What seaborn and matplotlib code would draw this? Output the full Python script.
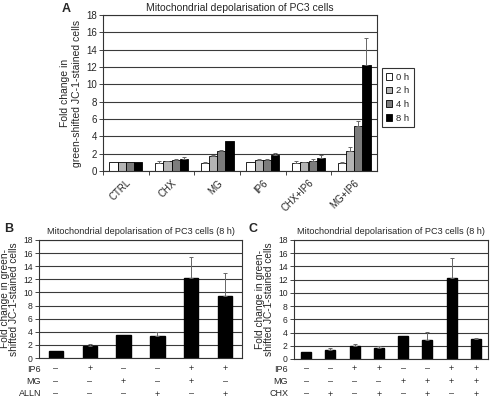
import numpy as np
import pandas as pd
import matplotlib
matplotlib.use("Agg")
from matplotlib import pyplot as plt
from matplotlib import transforms
import seaborn as sns

# panel A data
treatments = ["CTRL", "CHX", "MG", "IP6", "CHX+IP6", "MG+IP6"]
times = ["0 h", "2 h", "4 h", "8 h"]
vals_0h = [1.0, 0.95, 0.95, 1.0, 0.9, 0.95]
vals_2h = [1.0, 1.1, 1.7, 1.3, 1.0, 2.35]
vals_4h = [1.0, 1.3, 2.35, 1.3, 1.2, 5.2]
vals_8h = [1.0, 1.35, 3.5, 1.8, 1.5, 12.2]
err_0h = [0.0, 0.15, 0.1, 0.0, 0.2, 0.05]
err_2h = [0.0, 0.05, 0.2, 0.1, 0.05, 0.4]
err_4h = [0.0, 0.05, 0.05, 0.1, 0.2, 0.6]
err_8h = [0.0, 0.3, 0.0, 0.3, 0.35, 3.1]
time_colors = ["white", "#b4b4b4", "#7c7c7c", "black"]

# panel B data
b_vals = [1.0, 1.8, 3.55, 3.3, 12.25, 9.4]
b_err = [0.0, 0.35, 0.0, 0.6, 3.1, 3.6]
b_rows = ["IP6", "MG", "ALLN"]
b_signs = [["–", "+", "–", "–", "+", "+"],
           ["–", "–", "+", "–", "+", "–"],
           ["–", "–", "–", "+", "–", "+"]]

# panel C data
c_vals = [1.0, 1.4, 1.9, 1.6, 3.55, 2.85, 12.25, 2.95]
c_err = [0.0, 0.2, 0.3, 0.3, 0.0, 1.25, 3.1, 0.3]
c_rows = ["IP6", "MG", "CHX"]
c_signs = [["–", "–", "+", "+", "–", "–", "+", "+"],
           ["–", "–", "–", "–", "+", "+", "+", "+"],
           ["–", "+", "–", "+", "–", "+", "–", "+"]]

sns.set_style("white")
plt.rcParams["font.family"] = ["Liberation Sans", "DejaVu Sans"]
plt.rcParams["font.size"] = 6.8
GRID = "#3a3a3a"


def style_axes(ax, fs):
    ax.set_ylim(0, 18)
    ax.set_yticks(range(0, 19, 2))
    ax.yaxis.grid(True, color=GRID, lw=0.8)
    ax.set_axisbelow(True)
    for s in ax.spines.values():
        s.set_color("#333333")
        s.set_linewidth(0.8)
    ax.tick_params(axis="y", length=3, width=0.6, pad=1.5, labelsize=fs, left=True)
    ax.tick_params(axis="x", length=3, width=0.6, labelsize=fs, bottom=True)


def add_errs(ax, container, errs):
    for bar, e in zip(container, errs):
        if e <= 0:
            continue
        x = bar.get_x() + bar.get_width() / 2
        y = bar.get_height()
        ax.errorbar(x, y, yerr=[[0], [e]], color="#666666", lw=0.7, capsize=1.5,
                    capthick=0.7, zorder=5)


fig = plt.figure(figsize=(4.91, 4.03), dpi=100)

# ---- panel A
axA = fig.add_axes([103 / 491, 1 - 171 / 403, 274 / 491, 156 / 403])
dfA = pd.DataFrame({
    "treatment": treatments * 4,
    "time": [t for t in times for _ in treatments],
    "value": vals_0h + vals_2h + vals_4h + vals_8h,
})
sns.barplot(data=dfA, x="treatment", y="value", hue="time", palette=time_colors,
            edgecolor="black", linewidth=0.6, errorbar=None, width=0.72, ax=axA)
for cont, errs in zip(axA.containers, [err_0h, err_2h, err_4h, err_8h]):
    add_errs(axA, cont, errs)
style_axes(axA, 7)
axA.set_xticks(np.arange(len(treatments)) - 0.5, minor=True)
axA.set_xticks(range(len(treatments)))
axA.set_xticklabels(treatments, rotation=45, ha="right", rotation_mode="anchor")
axA.tick_params(axis="x", which="major", length=0, pad=5)
axA.tick_params(axis="x", which="minor", length=3, width=0.6, bottom=True)
axA.set_xlim(-0.5, len(treatments) - 0.5)
axA.set_xlabel("")
axA.set_ylabel("Fold change in\ngreen-shifted JC-1-stained cells", fontsize=7.5,
               labelpad=3, linespacing=1.25)
axA.set_title("Mitochondrial depolarisation of PC3 cells", fontsize=7.5, pad=3)
leg = axA.legend(loc="upper left", bbox_to_anchor=(1.01, 0.67), frameon=True,
                 fancybox=False, edgecolor="black", fontsize=6.8, handlelength=0.7,
                 handleheight=0.7, handletextpad=0.4, labelspacing=0.5,
                 borderpad=0.45, borderaxespad=0.2)
leg.get_frame().set_linewidth(0.8)
fig.text(62 / 491, 1 - 9 / 403, "A", fontsize=9, fontweight="bold", va="center")


def panel(rect, vals, errs, rows, signs, letter, lx, rx):
    ax = fig.add_axes(rect)
    n = len(vals)
    sns.barplot(x=list(range(n)), y=vals, color="black", edgecolor="black",
                width=0.42, errorbar=None, ax=ax)
    add_errs(ax, ax.containers[0], errs)
    style_axes(ax, 6.2)
    ax.set_xticks([])
    ax.set_xlim(-0.5, n - 0.5)
    ax.set_ylabel("Fold change in green-\nshifted JC-1-stained cells", fontsize=7.3,
                  labelpad=3, linespacing=0.9)
    ax.set_title("Mitochondrial depolarisation of PC3 cells (8 h)", fontsize=6.6, pad=4)
    trans = transforms.blended_transform_factory(ax.transData, fig.transFigure)
    for r, (name, row) in enumerate(zip(rows, signs)):
        y = 1 - (369 + r * 12.5) / 403
        fig.text(rx / 491, y, name, ha="right", va="center", fontsize=6.5)
        for i, s in enumerate(row):
            ax.text(i, y, s, transform=trans, ha="center", va="center", fontsize=6.5)
    fig.text(lx / 491, 1 - 229 / 403, letter, fontsize=9, fontweight="bold", va="center")
    return ax


panel([39 / 491, 1 - 358 / 403, 203 / 491, 118 / 403], b_vals, b_err, b_rows, b_signs,
      "B", 4, 41)
panel([294 / 491, 1 - 359 / 403, 194 / 491, 119 / 403], c_vals, c_err, c_rows, c_signs,
      "C", 249, 288)

fig.savefig("out.png", dpi=100, facecolor="white")
